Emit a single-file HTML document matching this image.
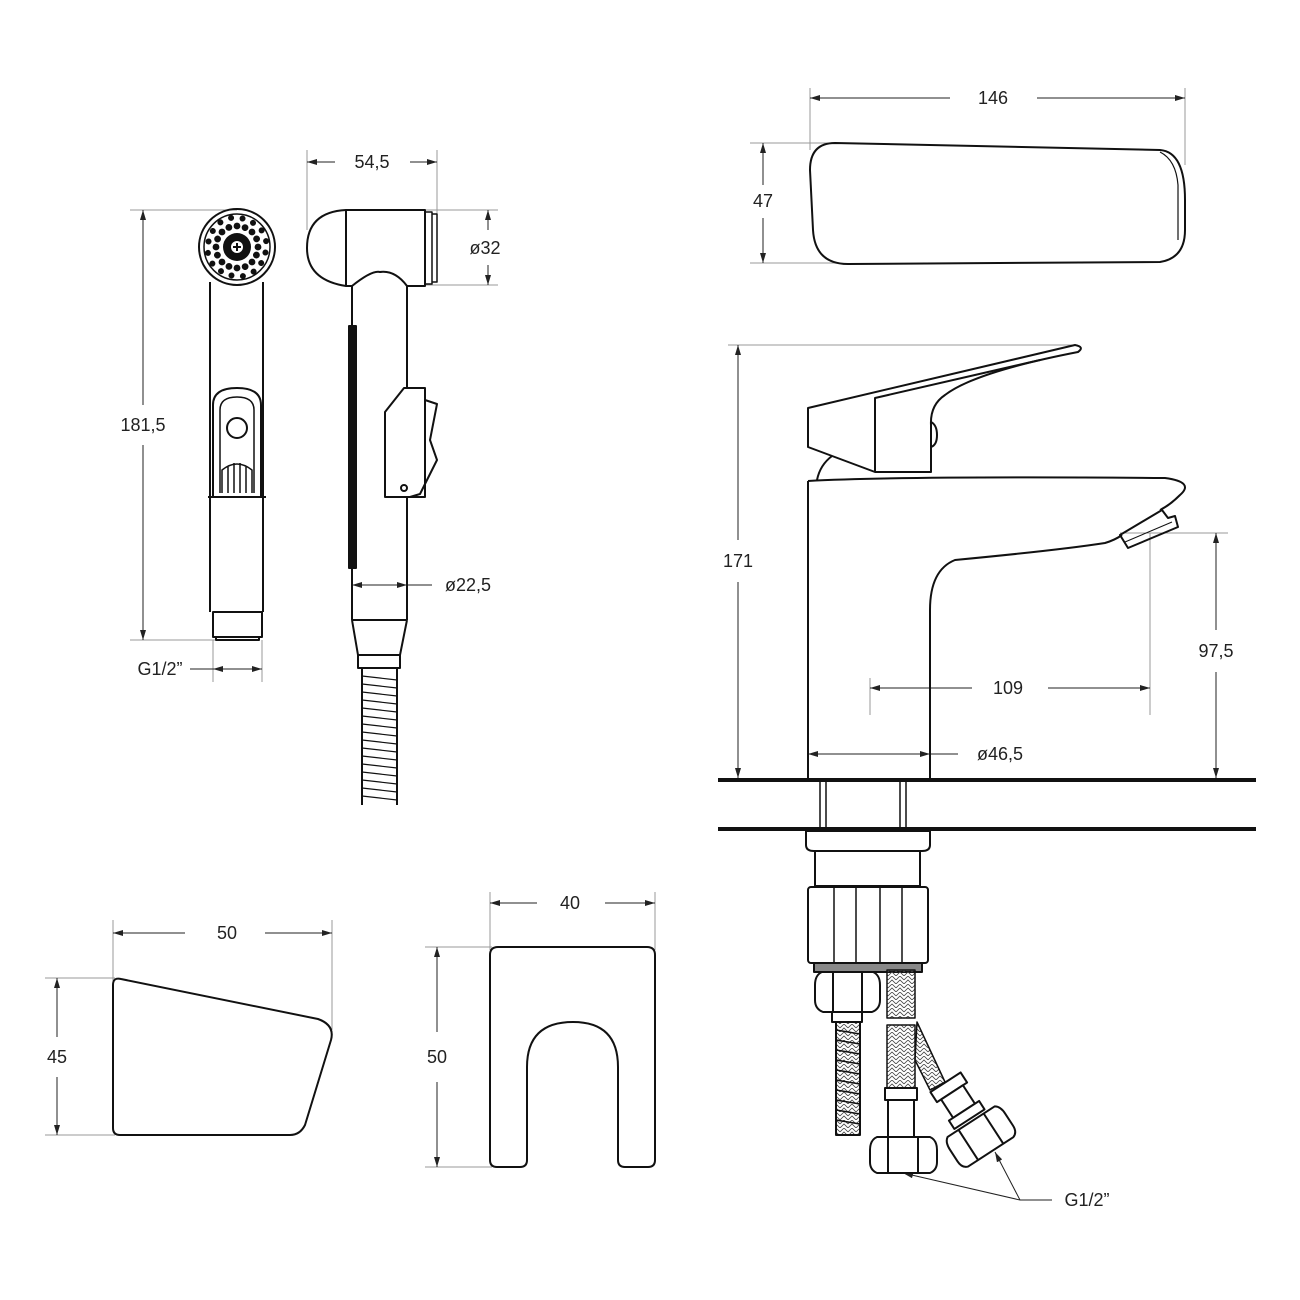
<!DOCTYPE html>
<html><head><meta charset="utf-8"><style>
html,body{margin:0;padding:0;background:#fff}
svg{display:block}
text{font-family:"Liberation Sans",sans-serif;font-size:18px;fill:#222}
</style></head><body>
<svg width="1300" height="1300" viewBox="0 0 1300 1300" xmlns="http://www.w3.org/2000/svg">
<defs>
<marker id="a" viewBox="0 0 10 6" refX="10" refY="3" markerWidth="10" markerHeight="6" orient="auto-start-reverse" markerUnits="userSpaceOnUse"><path d="M0,0 L10,3 L0,6 Z" fill="#222"/></marker>
<pattern id="br" width="8" height="8" patternUnits="userSpaceOnUse"><path d="M0,4 L4,0 L8,4 M0,8 L4,4 L8,8" stroke="#444" stroke-width="0.8" fill="none"/></pattern>
</defs>
<g stroke="#999" stroke-width="1" fill="none">
<line x1="810" y1="88" x2="810" y2="150"/><line x1="1185" y1="88" x2="1185" y2="165"/>
<line x1="750" y1="143" x2="830" y2="143"/><line x1="750" y1="263" x2="840" y2="263"/>
<line x1="728" y1="345" x2="1075" y2="345"/>
<line x1="1120" y1="533" x2="1228" y2="533"/>
<line x1="870" y1="678" x2="870" y2="715"/><line x1="1150" y1="533" x2="1150" y2="715"/>
<line x1="307" y1="150" x2="307" y2="230"/><line x1="437" y1="150" x2="437" y2="215"/>
<line x1="425" y1="210" x2="498" y2="210"/><line x1="425" y1="285" x2="498" y2="285"/>
<line x1="130" y1="210" x2="237" y2="210"/><line x1="130" y1="640" x2="215" y2="640"/>
<line x1="213" y1="640" x2="213" y2="682"/><line x1="262" y1="640" x2="262" y2="682"/>
<line x1="113" y1="920" x2="113" y2="985"/><line x1="332" y1="920" x2="332" y2="1030"/>
<line x1="45" y1="978" x2="115" y2="978"/><line x1="45" y1="1135" x2="115" y2="1135"/>
<line x1="490" y1="892" x2="490" y2="950"/><line x1="655" y1="892" x2="655" y2="950"/>
<line x1="425" y1="947" x2="492" y2="947"/><line x1="425" y1="1167" x2="492" y2="1167"/>
</g>
<g stroke="#222" stroke-width="1" fill="none">
<line x1="810" y1="98" x2="950" y2="98" marker-start="url(#a)"/><line x1="1037" y1="98" x2="1185" y2="98" marker-end="url(#a)"/>
<line x1="763" y1="143" x2="763" y2="185" marker-start="url(#a)"/><line x1="763" y1="218" x2="763" y2="263" marker-end="url(#a)"/>
<line x1="738" y1="345" x2="738" y2="540" marker-start="url(#a)"/><line x1="738" y1="582" x2="738" y2="778" marker-end="url(#a)"/>
<line x1="1216" y1="533" x2="1216" y2="630" marker-start="url(#a)"/><line x1="1216" y1="672" x2="1216" y2="778" marker-end="url(#a)"/>
<line x1="870" y1="688" x2="972" y2="688" marker-start="url(#a)"/><line x1="1048" y1="688" x2="1150" y2="688" marker-end="url(#a)"/>
<line x1="808" y1="754" x2="930" y2="754" marker-start="url(#a)" marker-end="url(#a)"/><line x1="930" y1="754" x2="958" y2="754"/>
<line x1="307" y1="162" x2="335" y2="162" marker-start="url(#a)"/><line x1="410" y1="162" x2="437" y2="162" marker-end="url(#a)"/>
<line x1="488" y1="210" x2="488" y2="230" marker-start="url(#a)"/><line x1="488" y1="265" x2="488" y2="285" marker-end="url(#a)"/>
<line x1="352" y1="585" x2="407" y2="585" marker-start="url(#a)" marker-end="url(#a)"/><line x1="407" y1="585" x2="432" y2="585"/>
<line x1="143" y1="210" x2="143" y2="405" marker-start="url(#a)"/><line x1="143" y1="445" x2="143" y2="640" marker-end="url(#a)"/>
<line x1="190" y1="669" x2="213" y2="669"/><line x1="213" y1="669" x2="262" y2="669" marker-start="url(#a)" marker-end="url(#a)"/>
<line x1="113" y1="933" x2="185" y2="933" marker-start="url(#a)"/><line x1="265" y1="933" x2="332" y2="933" marker-end="url(#a)"/>
<line x1="57" y1="978" x2="57" y2="1037" marker-start="url(#a)"/><line x1="57" y1="1077" x2="57" y2="1135" marker-end="url(#a)"/>
<line x1="490" y1="903" x2="537" y2="903" marker-start="url(#a)"/><line x1="605" y1="903" x2="655" y2="903" marker-end="url(#a)"/>
<line x1="437" y1="947" x2="437" y2="1032" marker-start="url(#a)"/><line x1="437" y1="1082" x2="437" y2="1167" marker-end="url(#a)"/>
<line x1="1052" y1="1200" x2="1020" y2="1200"/>
<line x1="1020" y1="1200" x2="903" y2="1173" marker-end="url(#a)"/>
<line x1="1020" y1="1200" x2="995" y2="1152" marker-end="url(#a)"/>
</g>
<text x="993" y="104" text-anchor="middle">146</text>
<text x="763" y="207" text-anchor="middle">47</text>
<text x="738" y="567" text-anchor="middle">171</text>
<text x="1216" y="657" text-anchor="middle">97,5</text>
<text x="1008" y="694" text-anchor="middle">109</text>
<text x="1000" y="760" text-anchor="middle">ø46,5</text>
<text x="372" y="168" text-anchor="middle">54,5</text>
<text x="485" y="254" text-anchor="middle">ø32</text>
<text x="468" y="591" text-anchor="middle">ø22,5</text>
<text x="143" y="431" text-anchor="middle">181,5</text>
<text x="160" y="675" text-anchor="middle">G1/2”</text>
<text x="227" y="939" text-anchor="middle">50</text>
<text x="57" y="1063" text-anchor="middle">45</text>
<text x="570" y="909" text-anchor="middle">40</text>
<text x="437" y="1063" text-anchor="middle">50</text>
<text x="1087" y="1206" text-anchor="middle">G1/2”</text>

<g stroke="#111" stroke-width="2" fill="none" stroke-linejoin="round">
<path d="M835,143 L1160,150 Q1185,152 1185,200 L1185,230 Q1185,258 1160,262 L848,264 Q815,264 813,230 L810,170 Q810,143 835,143 Z"/>
<path d="M1160,152 Q1176,160 1178,185 L1178,240" stroke-width="1.2"/>
<path d="M808,408 L1075,345 Q1085,347 1078,352 Q975,372 945,395 Q930,405 931,425 L931,472 L875,472 L808,447 Z"/>
<path d="M875,472 L875,398 L1040,360"/>
<path d="M931,422 Q937,425 937,435 Q937,445 931,447"/>
<path d="M817,480 Q820,465 832,456"/>
<path d="M808,481 L808,778 M930,778 L930,610 Q930,570 955,560 Q1060,550 1105,543 Q1115,540 1122,535"/>
<path d="M808,481 Q900,476 1165,478 Q1195,482 1180,495 Q1170,505 1160,510"/>
<path d="M1120,535 L1162,510 L1168,518 L1175,516 L1178,527 L1128,548 Z"/>
<path d="M1125,542 L1172,522" stroke-width="1"/>
<line x1="718" y1="780" x2="1256" y2="780" stroke-width="4"/>
<line x1="718" y1="829" x2="1256" y2="829" stroke-width="4"/>
<path d="M820,782 L820,827 M826,782 L826,827 M900,782 L900,827 M906,782 L906,827" stroke-width="1.5"/>
<path d="M806,831 L930,831 L930,845 Q930,851 922,851 L814,851 Q806,851 806,845 Z"/>
<rect x="815" y="851" width="105" height="35"/>
<rect x="808" y="887" width="120" height="76" rx="3"/>
<path d="M834,887 V963 M856,887 V963 M880,887 V963 M902,887 V963" stroke-width="1.5"/>
<rect x="814" y="963" width="108" height="9" fill="#888"/>
<path d="M822,972 L873,972 Q880,975 880,985 L880,1000 Q880,1009 872,1012 L823,1012 Q815,1009 815,1000 L815,985 Q815,975 822,972 Z"/>
<path d="M833,972 V1012 M862,972 V1012"/>
<rect x="832" y="1012" width="30" height="10"/>
<rect x="836" y="1022" width="24" height="113" fill="url(#br)"/>
<rect x="887" y="970" width="28" height="48" fill="url(#br)" stroke-width="1.5"/>
<rect x="887" y="1025" width="28" height="63" fill="url(#br)" stroke-width="1.5"/>
<rect x="885" y="1088" width="32" height="12"/>
<rect x="888" y="1100" width="26" height="37"/>
<path d="M877,1137 L930,1137 Q937,1140 937,1150 L937,1162 Q937,1170 930,1173 L877,1173 Q870,1170 870,1162 L870,1150 Q870,1140 877,1137 Z"/>
<path d="M888,1137 V1173 M918,1137 V1173"/>
<path d="M917,1022 L945,1082 L930,1090 L915,1060 Z" fill="url(#br)" stroke-width="1.5"/>
<g transform="translate(970,1120) rotate(-33)">
<rect x="-18" y="-45" width="36" height="12" fill="#fff"/>
<rect x="-13" y="-33" width="26" height="22" fill="#fff"/>
<rect x="-18" y="-11" width="36" height="10" fill="#fff"/>
<path d="M-28,2 L28,2 Q33,5 33,14 L33,28 Q33,36 27,38 L-27,38 Q-33,36 -33,28 L-33,14 Q-33,5 -28,2 Z" fill="#fff"/>
<path d="M-15,2 V38 M15,2 V38"/>
</g>
<circle cx="237" cy="247" r="38"/>
<circle cx="237" cy="247" r="33" stroke-width="1.5"/>
<path d="M210,282 V612 M263,282 V612"/>
<path d="M213,497 L213,405 Q213,388 237,388 Q261,388 261,405 L261,497"/>
<path d="M220,493 L220,410 Q220,397 237,397 Q254,397 254,410 L254,493" stroke-width="1.5"/>
<circle cx="237" cy="428" r="10"/>
<path d="M222,493 L222,470 Q237,458 252,470 L252,493 M228,467 V493 M234,463 V493 M240,463 V493 M246,467 V493" stroke-width="1.5"/>
<line x1="208" y1="497" x2="266" y2="497"/>
<rect x="213" y="612" width="49" height="25"/>
<rect x="216" y="637" width="43" height="3"/>
<path d="M346,210 Q307,212 307,248 Q307,280 346,286 L352,286 Q372,270 380,272 Q395,270 407,286 L425,286 L425,210 Z"/>
<line x1="346" y1="210" x2="346" y2="286"/>
<path d="M425,212 L432,212 L432,284 L425,284 M432,214 L437,214 L437,282 L432,282" stroke-width="1.5"/>
<path d="M352,286 V620 M407,286 V388 M407,497 V620"/>
<rect x="349" y="326" width="7" height="242" fill="#111"/>
<path d="M385,412 L404,388 L425,388 L425,497 L385,497 Z"/>
<path d="M425,400 L437,404 L430,440 L437,460 L420,494 L410,497"/>
<circle cx="404" cy="488" r="3"/>
<path d="M352,620 L358,655 M407,620 L400,655 M352,620 H407"/>
<rect x="358" y="655" width="42" height="13"/>
<path d="M362,668 V805 M397,668 V805"/>
<path d="M362,676 L397,680 M362,684 L397,688 M362,692 L397,696 M362,700 L397,704 M362,708 L397,712 M362,716 L397,720 M362,724 L397,728 M362,732 L397,736 M362,740 L397,744 M362,748 L397,752 M362,756 L397,760 M362,764 L397,768 M362,772 L397,776 M362,780 L397,784 M362,788 L397,792 M362,796 L397,800" stroke-width="1.2"/>
<path d="M836,1030 L860,1034 M836,1040 L860,1044 M836,1050 L860,1054 M836,1060 L860,1064 M836,1070 L860,1074 M836,1080 L860,1084 M836,1090 L860,1094 M836,1100 L860,1104 M836,1110 L860,1114 M836,1120 L860,1124" stroke-width="1.5"/>
<path d="M113,985 Q113,977 121,979 L318,1019 Q335,1025 331,1040 L305,1125 Q300,1135 290,1135 L120,1135 Q113,1135 113,1128 Z"/>
<path d="M498,947 L647,947 Q655,947 655,955 L655,1160 Q655,1167 648,1167 L625,1167 Q618,1167 618,1160 L618,1067 Q618,1022 573,1022 Q527,1022 527,1067 L527,1160 Q527,1167 520,1167 L497,1167 Q490,1167 490,1160 L490,955 Q490,947 498,947 Z"/>
</g>
<g fill="#111">
<circle cx="237" cy="247" r="14"/>
<circle cx="237" cy="247" r="6" fill="#fff"/>
<path d="M233,247 H241 M237,243 V251" stroke="#111" stroke-width="2"/>
<g id="r1"><circle cx="237" cy="226" r="3.4"/><circle cx="252" cy="232" r="3.4"/><circle cx="258" cy="247" r="3.4"/><circle cx="252" cy="262" r="3.4"/><circle cx="237" cy="268" r="3.4"/><circle cx="222" cy="262" r="3.4"/><circle cx="216" cy="247" r="3.4"/><circle cx="222" cy="232" r="3.4"/></g>
<use href="#r1" transform="rotate(22.5 237 247)"/>
<g transform="rotate(11 237 247)"><circle cx="237" cy="218" r="3"/><circle cx="258" cy="226" r="3"/><circle cx="266" cy="247" r="3"/><circle cx="258" cy="268" r="3"/><circle cx="237" cy="276" r="3"/><circle cx="216" cy="268" r="3"/><circle cx="208" cy="247" r="3"/><circle cx="216" cy="226" r="3"/></g>
<g transform="rotate(33.5 237 247)"><circle cx="237" cy="218" r="3"/><circle cx="258" cy="226" r="3"/><circle cx="266" cy="247" r="3"/><circle cx="258" cy="268" r="3"/><circle cx="237" cy="276" r="3"/><circle cx="216" cy="268" r="3"/><circle cx="208" cy="247" r="3"/><circle cx="216" cy="226" r="3"/></g>
</g>
</svg>
</body></html>
